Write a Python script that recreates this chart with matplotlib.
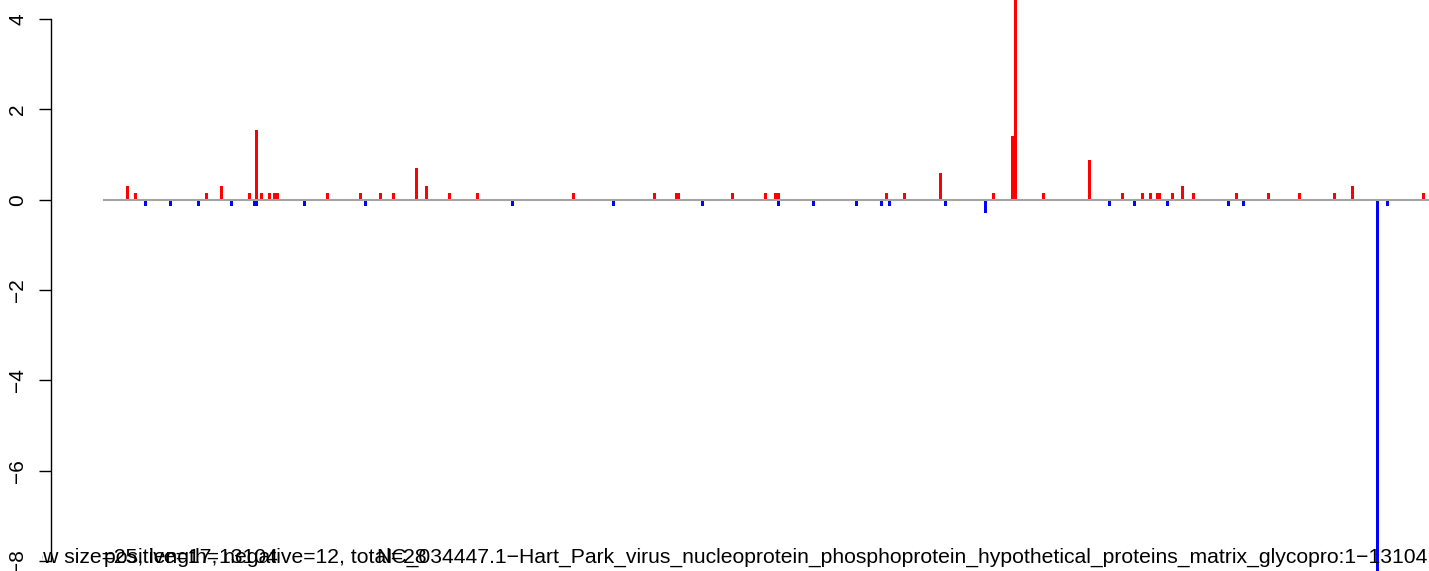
import matplotlib.pyplot as plt
from matplotlib.transforms import Bbox, TransformedBbox

plt.rcParams['font.family'] = ['Liberation Sans', 'DejaVu Sans']

# genome and sliding window
genome_len = 13104
window = 25

# positive (red) windows: centre position in nt, score
pos_x = [241, 320, 1024, 1172, 1450, 1519, 1569, 1648, 1702, 1727,
         2223, 2550, 2748, 2877, 3105, 3204, 3432, 3709,
         4661, 5463, 5681, 5706, 6236, 6563, 6666, 6691,
         7762, 7941, 8298, 8823, 9015, 9041, 9318, 9774,
         10101, 10300, 10379, 10448, 10473, 10597, 10696, 10805,
         11231, 11548, 11855, 12202, 12381, 13084]
pos_y = [0.3, 0.15, 0.15, 0.3, 0.15, 1.55, 0.15, 0.15, 0.15, 0.15,
         0.15, 0.15, 0.15, 0.15, 0.71, 0.3, 0.15, 0.15,
         0.15, 0.15, 0.15, 0.15, 0.15, 0.15, 0.15, 0.15,
         0.15, 0.15, 0.58, 0.15, 1.42, 7.0, 0.15, 0.87,
         0.15, 0.15, 0.15, 0.15, 0.15, 0.15, 0.3, 0.15,
         0.15, 0.15, 0.15, 0.15, 0.3, 0.15]

# negative (blue) windows
neg_x = [419, 667, 944, 1271, 1496, 1523, 1995, 2599, 4056, 5057,
         5939, 6692, 7039, 7465, 7713, 7792, 8347, 8744,
         9972, 10220, 10547, 11152, 11300, 12628, 12727]
neg_y = [-0.15, -0.15, -0.15, -0.15, -0.15, -0.15, -0.15, -0.15, -0.15, -0.15,
         -0.15, -0.15, -0.15, -0.15, -0.15, -0.15, -0.15, -0.29,
         -0.15, -0.15, -0.15, -0.15, -0.15, -9.0, -0.15]

yticks = [-8, -6, -4, -2, 0, 2, 4]
title_left = "window size=25, length=13104"
title_mid = "positive=17, negative=12, total=28"
title_right = ("NC_034447.1\u2212Hart_Park_virus_nucleoprotein_phosphoprotein_"
               "hypothetical_proteins_matrix_glycopro:1\u221213104")

fig = plt.figure(figsize=(14.29, 5.71), dpi=100)
ax = fig.add_axes([0, 0, 1, 1])

ax.bar(pos_x, pos_y, width=window * 1.15, color='#ff0000', linewidth=0, zorder=2)
ax.bar(neg_x, neg_y, width=window * 1.15, color='#0000ff', linewidth=0, zorder=2)
ax.plot([0, genome_len + 300], [0, 0], color='#a3a3a3', lw=1.5, zorder=3,
        solid_capstyle='butt')

ax.set_xlim(-1021, 13141)
ax.set_ylim(-8.215, 4.418)

for s in ['top', 'right', 'bottom']:
    ax.spines[s].set_visible(False)
ax.spines['left'].set_position(('data', -518))
ax.spines['left'].set_bounds(-8, 4)
ax.spines['left'].set_linewidth(1)
ax.set_xticks([])
ax.set_yticks(yticks)
ax.tick_params(axis='y', direction='out', length=9, width=1, pad=8,
               labelsize=15, labelrotation=90)
for lab in ax.get_yticklabels():
    lab.set_va('center')

fs = 15.2
t1 = ax.text(-12 / 1429, 1 - 563 / 571, title_left, transform=ax.transAxes,
             fontsize=fs, ha='left', va='baseline')
# the left part of this label is cut off in the original
t1.set_clip_box(TransformedBbox(Bbox([[42 / 1429, 0], [1, 1]]), ax.transAxes))
t1.set_clip_on(True)
ax.text(104 / 1429, 1 - 563 / 571, title_mid, transform=ax.transAxes,
        fontsize=fs, ha='left', va='baseline')
ax.text(1428 / 1429, 1 - 563 / 571, title_right, transform=ax.transAxes,
        fontsize=fs, ha='right', va='baseline')

fig.savefig('out.png', dpi=100)
